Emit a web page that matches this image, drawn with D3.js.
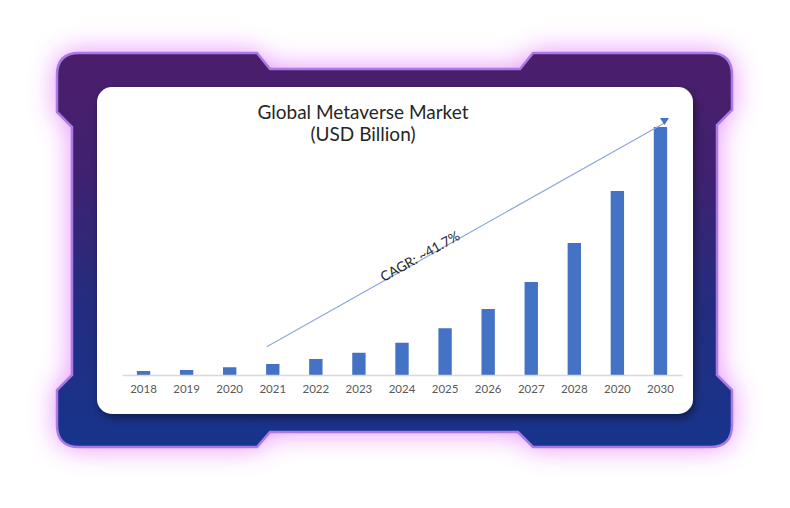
<!DOCTYPE html>
<html><head><meta charset="utf-8">
<script src="https://cdn.jsdelivr.net/npm/d3@7"></script>
<style>html,body{margin:0;padding:0;background:#fff;} svg{display:block}</style>
</head><body><svg id="c" width="790" height="508"></svg>
<script>
// ---- data ----
const years = ["2018","2019","2020","2021","2022","2023","2024","2025","2026","2027","2028","2029","2030"];
const tickLabels = ["2018","2019","2020","2021","2022","2023","2024","2025","2026","2027","2028","2020","2030"];
const marketValues = [16, 20, 31, 44, 64, 89, 129, 187, 264, 372, 528, 736, 992];
const titleLines = ["Global Metaverse Market", "(USD Billion)"];
const cagrLabel = "CAGR: ~41.7%";
const cagrFrom = {index: 3, value: 113};
const cagrTo = {index: 12, value: 1008};

// ---- layout ----
const svg = d3.select("#c");
const defs = svg.append("defs");

const glow = defs.append("filter").attr("id","glow").attr("x","-30%").attr("y","-30%").attr("width","160%").attr("height","160%");
glow.append("feGaussianBlur").attr("stdDeviation", 14);

const shadow = defs.append("filter").attr("id","shadow").attr("x","-10%").attr("y","-10%").attr("width","120%").attr("height","130%");
shadow.append("feDropShadow").attr("dx",2).attr("dy",4).attr("stdDeviation",4).attr("flood-color","#000").attr("flood-opacity",0.45);

const grad = defs.append("linearGradient").attr("id","fg").attr("x1",0).attr("y1",0).attr("x2",0).attr("y2",1);
grad.append("stop").attr("offset","0%").attr("stop-color","#4b1e6b");
grad.append("stop").attr("offset","30%").attr("stop-color","#402170");
grad.append("stop").attr("offset","65%").attr("stop-color","#232d80");
grad.append("stop").attr("offset","100%").attr("stop-color","#17348c");

const r = 22;
const framePath = [
  `M${57+r},53`, `L257,53`, `L270,69`, `L520,69`, `L533,53`, `L${732-r},53`,
  `Q732,53 732,${53+r}`, `L732,110`, `L717,125`, `L717,375`, `L732,390`, `L732,${447-r}`,
  `Q732,447 ${732-r},447`, `L533,447`, `L518,432`, `L270,432`, `L257,447`, `L${57+r},447`,
  `Q57,447 57,${447-r}`, `L57,390`, `L72,375`, `L72,127`, `L57,112`, `L57,${53+r}`,
  `Q57,53 ${57+r},53`, "Z"].join(" ");

svg.append("path").attr("d", framePath).attr("fill","#e37cff").attr("opacity",0.9).attr("filter","url(#glow)");
svg.append("path").attr("d", framePath).attr("fill","url(#fg)").attr("stroke","#a97ae6").attr("stroke-width",2.5);

svg.append("rect").attr("x",97).attr("y",87).attr("width",596).attr("height",327).attr("rx",15)
  .attr("fill","#fff").attr("filter","url(#shadow)");

// ---- chart ----
const x = d3.scaleBand().domain(d3.range(years.length)).range([122, 682]).paddingInner(0.69).paddingOuter(0.345);
const y = d3.scaleLinear().domain([0, 1000]).range([375, 125]);

svg.append("g").selectAll("rect").data(marketValues).join("rect")
  .attr("x", (d,i) => x(i)).attr("width", x.bandwidth())
  .attr("y", d => y(d)).attr("height", d => y(0) - y(d))
  .attr("fill", "#4472c4");

const ax = svg.append("g").attr("transform", `translate(0,${y(0)})`)
  .call(d3.axisBottom(x).tickSize(0).tickPadding(10).tickFormat(i => tickLabels[i]));
ax.select(".domain").attr("stroke","#d9d9d9").attr("stroke-width",1.5);
ax.selectAll("text").attr("fill","#595959").style("font-family","Lato, 'Open Sans', sans-serif").style("font-size","11.5px");

// title
svg.append("g").selectAll("text").data(titleLines).join("text")
  .attr("x", 363).attr("y", (d,i) => 119 + i*22)
  .attr("text-anchor","middle").attr("fill","#262626")
  .style("font-family","Lato, 'Open Sans', sans-serif").style("font-size","19px")
  .text(d => d);

// CAGR arrow
const cx = i => x(i) + x.bandwidth()/2;
const x1 = cx(cagrFrom.index) - 6, y1 = y(cagrFrom.value);
const x2 = cx(cagrTo.index) + 4, y2 = y(cagrTo.value);
svg.append("line").attr("x1",x1).attr("y1",y1).attr("x2",x2).attr("y2",y2)
  .attr("stroke","#8fa9d9").attr("stroke-width",1.2);
svg.append("path").attr("d", `M${x2-4.5},${y2-5} L${x2+4.5},${y2-5} L${x2},${y2+2} Z`).attr("fill","#4472c4");

const ang = Math.atan2(y2 - y1, x2 - x1) * 180 / Math.PI;
const t = 0.39;
const tx = x1 + (x2 - x1) * t, ty = y1 + (y2 - y1) * t;
svg.append("text").attr("transform", `translate(${tx},${ty}) rotate(${ang})`)
  .attr("text-anchor","middle").attr("dy", 1)
  .attr("fill","#262626").style("font-family","Lato, 'Open Sans', sans-serif").style("font-size","13.5px")
  .text(cagrLabel);
</script></body></html>
